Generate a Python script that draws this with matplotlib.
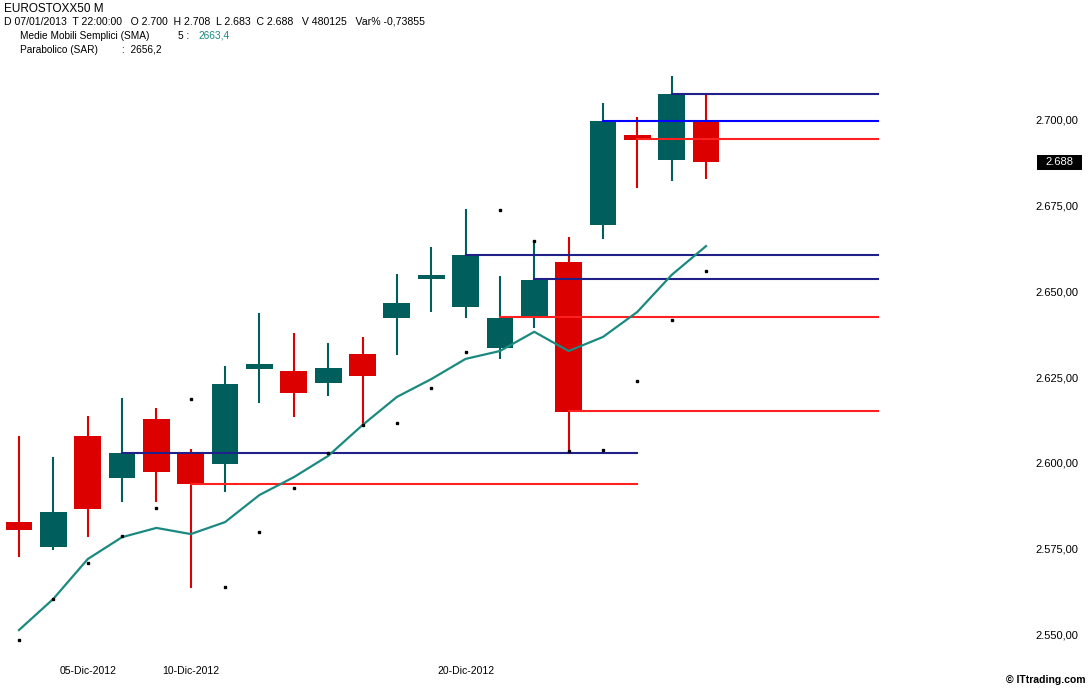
import matplotlib
matplotlib.use("Agg")
import matplotlib.pyplot as plt
import matplotlib.transforms as mtransforms
from matplotlib.patches import Rectangle

plt.rcParams['font.family'] = ['Liberation Sans', 'DejaVu Sans']

# daily candles, EUROSTOXX50 futures
opens = [2583.0, 2575.7, 2608.1, 2595.9, 2613.1, 2603.1, 2599.9, 2627.7, 2627.1, 2623.6,
         2632.0, 2642.5, 2653.9, 2645.7, 2633.8, 2643.1, 2658.9, 2669.7, 2695.9, 2688.6, 2700.0]
highs = [2608.1, 2602.0, 2613.9, 2619.2, 2616.3, 2604.3, 2628.5, 2644.0, 2638.2, 2635.2,
         2637.0, 2655.4, 2663.2, 2674.3, 2654.8, 2665.3, 2666.2, 2705.3, 2701.2, 2713.1, 2708.0]
lows = [2572.8, 2574.8, 2578.6, 2588.9, 2588.9, 2563.8, 2591.8, 2617.7, 2613.7, 2619.8,
        2611.3, 2631.7, 2644.3, 2642.5, 2630.6, 2639.6, 2603.4, 2665.6, 2680.5, 2682.5, 2683.0]
closes = [2580.7, 2585.9, 2586.8, 2603.1, 2597.6, 2594.1, 2623.3, 2629.2, 2620.7, 2628.0,
          2625.6, 2646.9, 2655.1, 2660.9, 2642.5, 2653.6, 2615.1, 2700.0, 2694.5, 2707.9, 2688.0]

sma5 = [2551.5, 2560.6, 2572.2, 2578.6, 2581.3, 2579.5, 2583.0, 2590.9, 2596.1, 2602.3,
        2611.3, 2619.5, 2624.7, 2630.6, 2632.9, 2638.5, 2632.9, 2637.0, 2644.3, 2655.1, 2663.5]
sar = [2548.6, 2560.6, 2571.1, 2578.9, 2587.1, 2618.9, 2564.1, 2580.1, 2592.9, 2603.1,
       2611.3, 2611.9, 2622.1, 2632.6, 2674.0, 2665.0, 2603.7, 2604.0, 2624.2, 2641.9, 2656.2]

# support / resistance lines: (start bar, end bar, level)
blue_lines = [(3, 18, 2603.1), (13, 25, 2660.9), (15, 25, 2653.9), (19, 25, 2707.9)]
bright_blue_lines = [(17, 25, 2700.0)]
red_lines = [(5, 18, 2594.1), (14, 25, 2642.8), (16, 25, 2615.4), (18, 25, 2694.7)]

date_pos = [2, 5, 13]
date_labels = ['05-Dic-2012', '10-Dic-2012', '20-Dic-2012']
price_ticks = [2550, 2575, 2600, 2625, 2650, 2675, 2700]
last_price = 2688.0

UP = '#005f5c'
DOWN = '#dd0000'
SMA_COL = '#1a8a80'
NAVY = '#202088'

fig = plt.figure(figsize=(10.91, 6.88), dpi=100)
ax = fig.add_axes([0, 0, 1, 1])
ax.set_xlim(-19 / 34.35, 1072 / 34.35)
ax.set_ylim(2700 - 567 / 3.428, 2700 + 121 / 3.428)
ax.axis('off')

for i in range(len(opens)):
    o, h, l, c = opens[i], highs[i], lows[i], closes[i]
    col = UP if c >= o else DOWN
    ax.plot([i, i], [l, h], color=col, lw=1.5, zorder=2, solid_capstyle='butt')
    ax.bar(i, max(abs(c - o), 1.3), bottom=min(o, c), width=0.78, color=col, zorder=3, linewidth=0)

for x0, x1, lev in blue_lines:
    ax.plot([x0, x1], [lev, lev], color=NAVY, lw=1.5, zorder=4)
for x0, x1, lev in bright_blue_lines:
    ax.plot([x0, x1], [lev, lev], color='#0000ff', lw=1.5, zorder=4)
for x0, x1, lev in red_lines:
    ax.plot([x0, x1], [lev, lev], color='#ff2020', lw=1.5, zorder=4)

idx = list(range(len(sma5)))
ax.plot(idx, sma5, color=SMA_COL, lw=1.6, zorder=5)
ax.plot(idx, sar, linestyle='none', marker='s', markersize=1.8, color='black', zorder=6)

# right price scale
trans = mtransforms.blended_transform_factory(fig.transFigure, ax.transData)
for p in price_ticks:
    lab = f"{p:,}".replace(',', '.') + ',00'
    ax.text(1057 / 1091, p, lab, transform=trans, ha='center', va='center', fontsize=8)
box_h = 15 / 3.428
ax.add_patch(Rectangle((1037 / 1091, last_price - box_h / 2), 45 / 1091, box_h,
                       transform=trans, fc='black', ec='none', zorder=6))
ax.text(1059.5 / 1091, last_price, f"{last_price:,.0f}".replace(',', '.'), transform=trans,
        ha='center', va='center', fontsize=8, color='white', zorder=7)

# date labels
tdate = mtransforms.blended_transform_factory(ax.transData, fig.transFigure)
for pos, lab in zip(date_pos, date_labels):
    ax.text(pos, 1 - 671 / 688, lab, transform=tdate, ha='center', va='center', fontsize=7.5)

# header
fig.text(4 / 1091, 1 - 9 / 688, 'EUROSTOXX50 M', fontsize=8.5, va='center')
fig.text(4 / 1091, 1 - 22 / 688,
         'D 07/01/2013  T 22:00:00   O 2.700  H 2.708  L 2.683  C 2.688   V 480125   Var% -0,73855',
         fontsize=7.6, va='center')
fig.text(20 / 1091, 1 - 36 / 688, 'Medie Mobili Semplici (SMA)', fontsize=7.3, va='center')
fig.text(178 / 1091, 1 - 36 / 688, '5 :', fontsize=7.3, va='center')
fig.text(198 / 1091, 1 - 36 / 688, '2663,4', fontsize=7.3, va='center', color=SMA_COL)
fig.text(20 / 1091, 1 - 50 / 688, 'Parabolico (SAR)', fontsize=7.3, va='center')
fig.text(122 / 1091, 1 - 50 / 688, ':  2656,2', fontsize=7.3, va='center')

fig.text(1085 / 1091, 1 - 680 / 688, '© ITtrading.com', fontsize=7.5, fontweight='bold',
         ha='right', va='center')

fig.savefig('out.png', dpi=100)
